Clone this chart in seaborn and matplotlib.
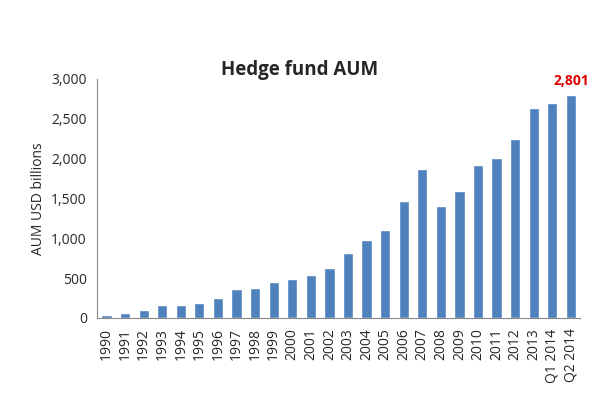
import matplotlib
matplotlib.use("Agg")
import matplotlib.pyplot as plt
import seaborn as sns
import pandas as pd

years = ["1990", "1991", "1992", "1993", "1994", "1995", "1996", "1997", "1998", "1999",
         "2000", "2001", "2002", "2003", "2004", "2005", "2006", "2007", "2008", "2009",
         "2010", "2011", "2012", "2013", "Q1 2014", "Q2 2014"]
aum = [39, 58, 96, 168, 167, 186, 256, 368, 375, 456,
       491, 539, 626, 820, 973, 1105, 1465, 1868, 1407, 1600,
       1917, 2008, 2252, 2630, 2700, 2801]

sns.set_style("white")
plt.rcParams['font.family'] = ['Open Sans', 'DejaVu Sans']

df = pd.DataFrame({"year": years, "aum": aum})
fig = plt.figure(figsize=(6, 4.03), dpi=100)
ax = fig.add_axes([0.162, 0.211, 0.805, 0.593])
sns.barplot(data=df, x="year", y="aum", color="#4F81BD", saturation=1, width=0.55, ax=ax)

ax.set_ylim(0, 3000)
ax.set_yticks(range(0, 3001, 500))
ax.set_yticklabels([f"{v:,}" for v in range(0, 3001, 500)], fontsize=10)
ax.set_xlim(-0.5, len(years) - 0.5)
ax.tick_params(axis="x", rotation=90, labelsize=10, length=4, color="#888888")
ax.tick_params(axis="y", length=4, color="#888888")
ax.set_xlabel("")
ax.set_ylabel("AUM USD billions", fontsize=10)
for s in ["top", "right"]:
    ax.spines[s].set_visible(False)
for s in ["left", "bottom"]:
    ax.spines[s].set_color("#888888")

ax.text(len(years) - 1, aum[-1] + 80, f"{aum[-1]:,}", color="#E00000", fontsize=10,
        fontweight="bold", ha="center", va="bottom")
fig.text(0.5, 0.815, "Hedge fund AUM", fontsize=13.5, fontweight="bold", ha="center")

fig.savefig("out.png", dpi=100)
